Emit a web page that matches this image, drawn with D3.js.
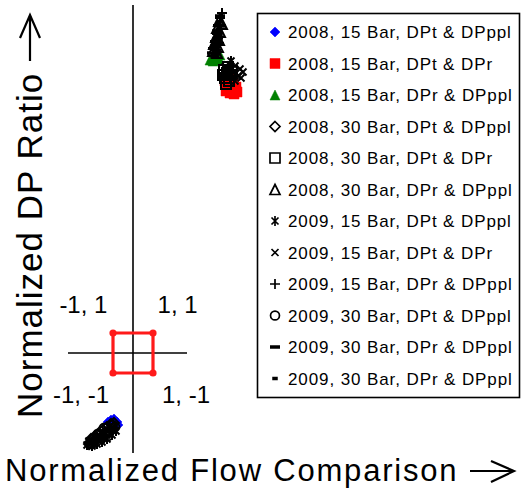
<!DOCTYPE html>
<html>
<head>
<meta charset="utf-8">
<script src="https://cdn.jsdelivr.net/npm/d3@7"></script>
<style>
  html, body { margin: 0; padding: 0; background: #fff; }
  svg { display: block; font-family: "Liberation Sans", Arial, sans-serif; }
</style>
</head>
<body>
<svg id="chart" width="523" height="489"></svg>
<script>
// Legend entries, in drawing order
const seriesNames = [
  "2008, 15 Bar, DPt & DPppl",
  "2008, 15 Bar, DPt & DPr",
  "2008, 15 Bar, DPr & DPppl",
  "2008, 30 Bar, DPt & DPppl",
  "2008, 30 Bar, DPt & DPr",
  "2008, 30 Bar, DPr & DPppl",
  "2009, 15 Bar, DPt & DPppl",
  "2009, 15 Bar, DPt & DPr",
  "2009, 15 Bar, DPr & DPppl",
  "2009, 30 Bar, DPt & DPppl",
  "2009, 30 Bar, DPr & DPppl",
  "2009, 30 Bar, DPr & DPppl"
];

// [normalized flow comparison, normalized DP ratio]
const s08_15_tppl = [[-0.95, -3.3], [-0.8, -3.45], [-1.1, -3.35], [-0.75, -3.6], [-1.25, -3.45]];
const s08_15_tr   = [[4.65, 13.1], [4.85, 13.0], [5.05, 12.95], [5.2, 13.05], [5.15, 13.3], [4.75, 13.35],
                     [5.0, 13.5], [4.6, 13.6], [4.9, 13.75]];
const s08_15_rppl = [[3.85, 14.65], [4.0, 14.6], [4.15, 14.65], [4.3, 14.7], [3.95, 14.8], [4.2, 14.85],
                     [4.35, 14.9], [4.05, 14.95]];
const s08_30_tppl = [[-2.1, -4.3], [-1.9, -4.15], [-1.7, -4.0], [-1.5, -3.85], [-1.3, -3.7], [-1.1, -3.55],
                     [-0.95, -3.5], [-2.0, -4.45], [-1.6, -4.2], [-1.2, -3.9], [-1.8, -4.3], [-1.4, -4.05],
                     [-1.0, -3.75], [-2.2, -4.55], [-1.55, -4.3]];
const s08_30_tr   = [[4.55, 14.15], [4.7, 14.0], [4.85, 13.9], [4.6, 13.75], [4.8, 13.6], [4.65, 13.45],
                     [4.5, 13.9], [4.95, 14.1], [4.75, 14.3]];
const s08_30_rppl = [[4.3, 16.6], [4.45, 16.45], [4.2, 16.25], [4.35, 16.05], [4.15, 15.8], [4.3, 15.65],
                     [4.05, 15.45], [4.25, 15.3], [4.0, 15.1], [4.2, 15.0]];
const s09_15_tppl = [[-2.3, -4.6], [-2.05, -4.65], [-1.8, -4.55], [-1.55, -4.45], [-1.3, -4.3], [-1.05, -4.1],
                     [-0.85, -3.9], [-2.2, -4.4], [4.9, 14.6]];
const s09_15_tr   = [[4.85, 14.4], [5.1, 14.35], [5.35, 14.2], [5.5, 14.05], [4.6, 14.3], [5.0, 14.0],
                     [5.25, 13.85], [5.4, 13.75], [5.1, 13.6]];
const s09_15_rppl = [[4.45, 17.0], [4.35, 16.75], [4.25, 16.4], [4.4, 16.2], [4.2, 15.95], [4.1, 15.6],
                     [4.3, 15.5], [4.0, 15.25], [4.15, 15.15]];
const s09_30_tppl = [[-2.15, -4.5], [-1.85, -4.3], [-1.6, -4.1], [-1.35, -3.95], [-1.1, -3.8], [-0.9, -3.7],
                     [-1.75, -4.05], [-1.45, -3.75], [-1.95, -4.25], [-1.25, -4.15], [-1.05, -3.6], [-2.05, -4.55]];
const s09_30_rppl = [[4.35, 16.85], [4.4, 16.35], [4.2, 16.1], [4.25, 15.75], [4.1, 15.35], [4.15, 14.95], [3.95, 15.0]];
const s09_30_rppl2 = [[4.3, 16.5], [4.25, 16.15], [4.35, 15.9], [4.1, 15.7], [4.2, 15.2], [4.0, 14.85]];

const seriesData = [s08_15_tppl, s08_15_tr, s08_15_rppl, s08_30_tppl, s08_30_tr, s08_30_rppl,
                    s09_15_tppl, s09_15_tr, s09_15_rppl, s09_30_tppl, s09_30_rppl, s09_30_rppl2];
const seriesSymbols = ["diamondFill", "squareFill", "triangleFill", "diamond", "square", "triangle",
                       "asterisk", "cross", "plus", "circle", "longDash", "shortDash"];
const seriesColors = ["#0000ff", "#ff0000", "#008000", "#000", "#000", "#000",
                      "#000", "#000", "#000", "#000", "#000", "#000"];

// Reference square through the four unit corners, and the crosshair extents
const unitSquare = [[-1, 1], [1, 1], [1, -1], [-1, -1]];
const crossX = [-3.25, 2.7];
const crossY = [-5, 17.4];
const quadrantLabels = [
  { text: "-1, 1",  x: -2.48, y: 2.0 },
  { text: "1, 1",   x: 2.23,  y: 2.0 },
  { text: "-1, -1", x: -2.6,  y: -2.5 },
  { text: "1, -1",  x: 2.65,  y: -2.5 }
];

const svg = d3.select("#chart");
const x = d3.scaleLinear().domain([-6, 6]).range([13, 253]);
const y = d3.scaleLinear().domain([-5, 17.4]).range([453, 5]);

// Marker path for a given symbol type, centred on 0,0
function markerPath(type, s) {
  const h = s / 2;
  switch (type) {
    case "diamondFill":
    case "diamond": return `M0,${-h}L${h},0L0,${h}L${-h},0Z`;
    case "squareFill":
    case "square": return `M${-h},${-h}H${h}V${h}H${-h}Z`;
    case "triangleFill":
    case "triangle": return `M0,${-h}L${h},${h}L${-h},${h}Z`;
    case "asterisk": return `M${-h*0.7},${-h*0.7}L${h*0.7},${h*0.7}M${h*0.7},${-h*0.7}L${-h*0.7},${h*0.7}M0,${-h}V${h}`;
    case "cross": return `M${-h*0.7},${-h*0.7}L${h*0.7},${h*0.7}M${h*0.7},${-h*0.7}L${-h*0.7},${h*0.7}`;
    case "plus": return `M${-h},0H${h}M0,${-h}V${h}`;
    case "circle": return d3.symbol(d3.symbolCircle, Math.PI * h * h * 0.8)();
    case "longDash": return `M${-h},0H${h}`;
    case "shortDash": return `M${-h*0.55},0H${h*0.55}`;
  }
}
function styleMarker(sel, type, color, fillOpen, lw) {
  const filled = type.endsWith("Fill");
  const closed = ["circle", "diamond", "square", "triangle"].includes(type);
  sel.attr("fill", filled ? color : (closed ? fillOpen : "none"))
     .attr("stroke", color)
     .attr("stroke-width", filled ? 0.5 : (type === "longDash" || type === "shortDash") ? 3.5 : lw)
     .attr("stroke-linejoin", "miter");
}

// Crosshair through the origin
svg.append("line")
  .attr("x1", x(crossX[0])).attr("x2", x(crossX[1]))
  .attr("y1", y(0)).attr("y2", y(0))
  .attr("stroke", "#000").attr("stroke-width", 1.4);
svg.append("line")
  .attr("x1", x(0)).attr("x2", x(0))
  .attr("y1", y(crossY[0])).attr("y2", y(crossY[1]))
  .attr("stroke", "#000").attr("stroke-width", 1.6);

// Unit square with corner markers
svg.append("path")
  .attr("d", d3.line().x(d => x(d[0])).y(d => y(d[1])).curve(d3.curveLinearClosed)(unitSquare))
  .attr("fill", "none").attr("stroke", "#ff1a1a").attr("stroke-width", 3.2);
svg.selectAll(".corner").data(unitSquare).join("circle")
  .attr("class", "corner")
  .attr("cx", d => x(d[0])).attr("cy", d => y(d[1])).attr("r", 3.6)
  .attr("fill", "#ff1a1a");

// Quadrant labels
svg.selectAll(".qlabel").data(quadrantLabels).join("text")
  .attr("class", "qlabel")
  .attr("x", d => x(d.x)).attr("y", d => y(d.y))
  .attr("text-anchor", "middle")
  .attr("font-size", 24)
  .attr("fill", "#000")
  .text(d => d.text);

// Scatter series (open markers are hollow so the clusters merge into solid blobs)
seriesData.forEach((pts, i) => {
  const g = svg.append("g");
  pts.forEach(p => {
    const m = g.append("path")
      .attr("d", markerPath(seriesSymbols[i], 10))
      .attr("transform", `translate(${x(p[0])},${y(p[1])})`);
    styleMarker(m, seriesSymbols[i], seriesColors[i], "none", 2.0);
  });
});

// Legend
const legend = svg.append("g");
legend.append("rect")
  .attr("x", 257.5).attr("y", 13.5).attr("width", 262).attr("height", 384)
  .attr("fill", "#fff").attr("stroke", "#000").attr("stroke-width", 1.6);
seriesNames.forEach((name, i) => {
  const cy = 32 + i * 31.5;
  const m = legend.append("path")
    .attr("d", markerPath(seriesSymbols[i], 10))
    .attr("transform", `translate(275,${cy})`);
  styleMarker(m, seriesSymbols[i], seriesColors[i], "#fff", 1.7);
  legend.append("text")
    .attr("x", 288).attr("y", cy + 6)
    .attr("font-size", 17)
    .attr("letter-spacing", 0.9)
    .attr("fill", "#000")
    .text(name);
});

// Axis titles with open arrows
svg.append("text")
  .attr("x", 5).attr("y", 481)
  .attr("font-size", 31)
  .attr("letter-spacing", 1.8)
  .attr("fill", "#000")
  .text("Normalized Flow Comparison");
svg.append("path")
  .attr("d", "M470,471H513M491,461L514,471L491,482")
  .attr("fill", "none").attr("stroke", "#000").attr("stroke-width", 2.2);

svg.append("text")
  .attr("transform", "translate(42,418) rotate(-90)")
  .attr("font-size", 35)
  .attr("letter-spacing", 1.0)
  .attr("fill", "#000")
  .text("Normalized DP Ratio");
svg.append("path")
  .attr("d", "M30,61V16M20,38L30,15L40,38")
  .attr("fill", "none").attr("stroke", "#000").attr("stroke-width", 2.2);
</script>
</body>
</html>
